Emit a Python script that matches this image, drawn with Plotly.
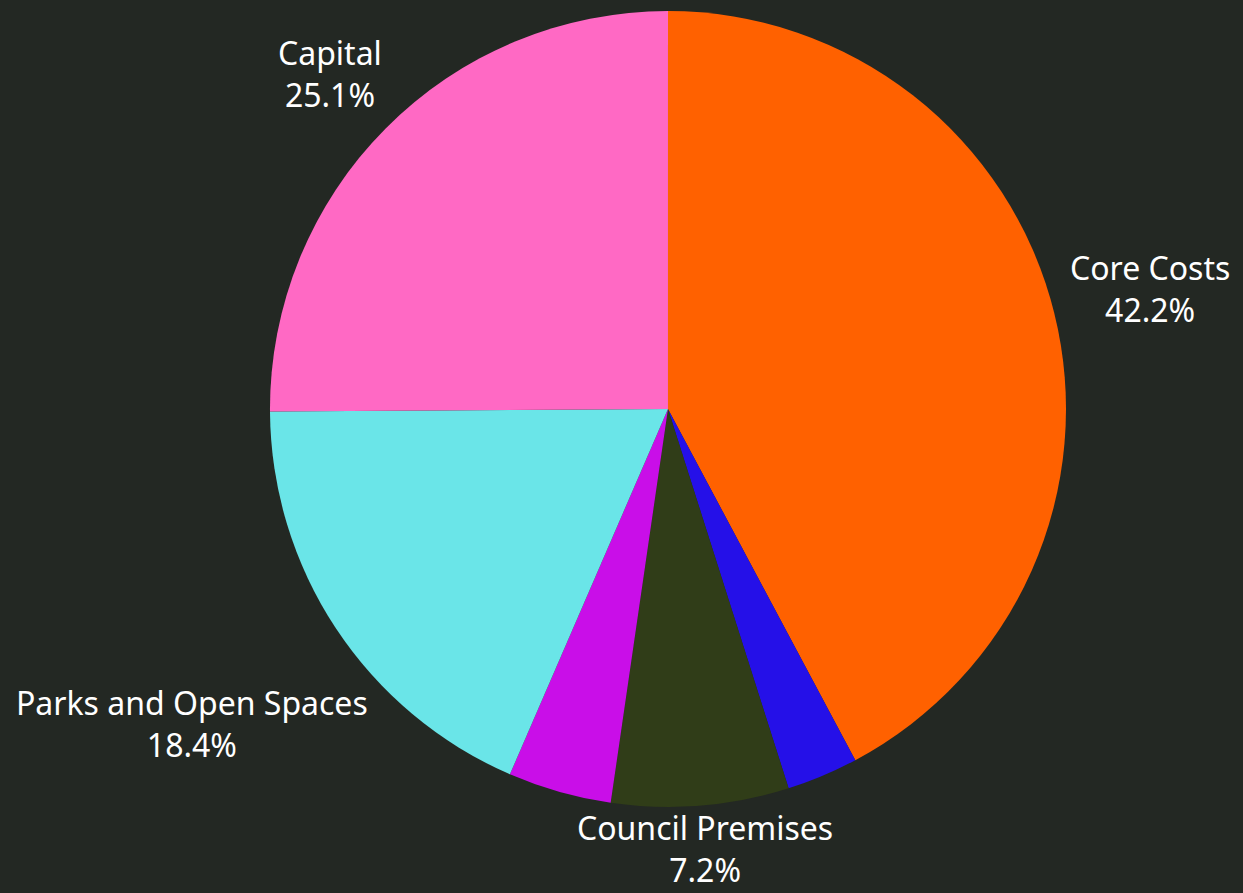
import math
import plotly.graph_objects as go

labels = ["Core Costs", "Grants", "Council Premises", "Events", "Parks and Open Spaces", "Capital"]
values = [42.2, 2.9, 7.2, 4.2, 18.4, 25.1]
colors = ["#FF6100", "#2510E8", "#303D18", "#C90EE8", "#6AE5E8", "#FF69C4"]
show_label = [True, False, True, False, True, True]

W, H = 1243, 893
DOM_X = [0.2172, 0.8576]
DOM_Y = [0.0963, 0.9877]
FONT_SIZE = 32
BG = "#232823"

fig = go.Figure(go.Pie(
    labels=labels,
    values=values,
    marker=dict(colors=colors, line=dict(width=0)),
    sort=False,
    direction="clockwise",
    rotation=0,
    textinfo="none",
    showlegend=False,
    domain=dict(x=DOM_X, y=DOM_Y),
))

# Label placement: each label box sits on its slice's mid-angle ray,
# just clear of the pie edge (kept inside the canvas).
cx_px = (DOM_X[0] + DOM_X[1]) / 2 * W          # from left
cy_px = (DOM_Y[0] + DOM_Y[1]) / 2 * H          # from bottom
r_px = min((DOM_X[1] - DOM_X[0]) * W, (DOM_Y[1] - DOM_Y[0]) * H) / 2
gap = 9
char_w = 0.52 * FONT_SIZE
half_h = 1.26 * FONT_SIZE
box_half = 1.3 * FONT_SIZE + 3

total = sum(values)
cum = 0.0
annotations = []
for lab, val, show in zip(labels, values, show_label):
    mid = (cum + val / 2) / total * 2 * math.pi
    cum += val
    if not show:
        continue
    pct = f"{val / total * 100:.1f}%"
    half_w = char_w * max(len(lab), len(pct)) / 2
    ux, uy = math.sin(mid), math.cos(mid)  # uy upward

    def nearest(d):
        bx, by = d * ux, d * uy
        dx = max(abs(bx) - half_w, 0)
        dy = max(abs(by) - half_h, 0)
        return math.hypot(dx, dy)

    lo, hi = 0.0, 3000.0
    for _ in range(60):
        m = (lo + hi) / 2
        if nearest(m) < r_px + gap:
            lo = m
        else:
            hi = m
    d = (lo + hi) / 2
    px = cx_px + d * ux
    py = cy_px + d * uy
    py = min(max(py, box_half), H - box_half)
    annotations.append(dict(
        x=px / W, y=py / H, xref="paper", yref="paper",
        text=f"{lab}<br>{pct}", showarrow=False,
        xanchor="center", yanchor="middle",
        font=dict(color="#FFFFFF", size=FONT_SIZE, family="Noto Sans"),
    ))

fig.update_layout(
    width=W, height=H,
    paper_bgcolor=BG,
    plot_bgcolor=BG,
    margin=dict(l=0, r=0, t=0, b=0),
    annotations=annotations,
)

fig.write_html(
    "out.html",
    config={"displayModeBar": False},
    post_script="document.body.style.margin='0';document.body.style.background='#232823';",
)
